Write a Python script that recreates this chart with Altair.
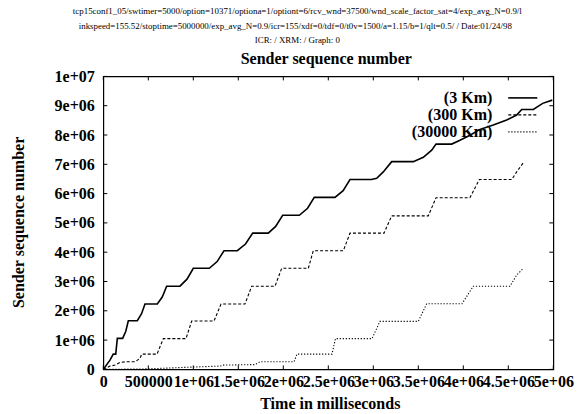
import altair as alt
import pandas as pd

# ---- data ----
x_3km = [0, 74000, 111000, 138000, 156000, 215000, 250000, 278000, 378000, 425000, 463000,
         600000, 655000, 704000, 852000, 930000, 1000000, 1178000, 1265000, 1341000,
         1489000, 1580000, 1660000, 1833000, 1915000, 1993000, 2178000, 2270000, 2344000,
         2574000, 2665000, 2741000, 2980000, 3038000, 3111000, 3204000, 3444000, 3556000,
         3649000, 3697000, 3871000, 3963000, 4074000, 4185000, 4333000, 4482000, 4593000,
         4649000, 4778000, 4882000, 4989000]
y_3km = [0, 317000, 522000, 522000, 1058000, 1058000, 1300000, 1660000, 1660000, 1900000, 2230000,
         2230000, 2470000, 2840000, 2840000, 3080000, 3450000, 3450000, 3680000, 4050000,
         4050000, 4280000, 4650000, 4650000, 4880000, 5260000, 5260000, 5500000, 5870000,
         5870000, 6100000, 6480000, 6480000, 6520000, 6740000, 7090000, 7090000, 7240000,
         7480000, 7690000, 7690000, 7820000, 7990000, 8190000, 8340000, 8510000, 8680000,
         8870000, 8870000, 9080000, 9190000]

x_300km = [0, 74000, 130000, 186000, 241000, 352000, 408000, 427000, 574000, 597000, 667000,
           919000, 982000, 1230000, 1308000, 1574000, 1649000, 1908000, 1982000, 2278000,
           2333000, 2667000, 2741000, 3119000, 3204000, 3611000, 3697000, 4074000, 4178000,
           4538000, 4593000, 4675000]
y_300km = [0, 113000, 147000, 239000, 259000, 259000, 375000, 522000, 522000, 522000, 1050000,
           1050000, 1650000, 1650000, 2230000, 2230000, 2840000, 2840000, 3450000, 3450000,
           4050000, 4050000, 4650000, 4650000, 5240000, 5240000, 5860000, 5860000, 6480000,
           6480000, 6740000, 7090000]

x_30000km = [0, 482000, 982000, 1297000, 1333000, 1686000, 1741000, 2119000, 2152000, 2541000,
             2580000, 2986000, 3074000, 3500000, 3593000, 3986000, 4111000, 4519000, 4593000,
             4667000]
y_30000km = [0, 17000, 78000, 113000, 147000, 164000, 259000, 259000, 522000, 522000,
             1050000, 1050000, 1640000, 1640000, 2240000, 2240000, 2840000, 2840000, 3220000,
             3450000]

series_names = ["(3 Km)", "(300 Km)", "(30000 Km)"]

x_tick_values = [0, 500000, 1000000, 1500000, 2000000, 2500000, 3000000, 3500000, 4000000,
                 4500000, 5000000]
x_tick_labels = ["0", "500000", "1e+06", "1.5e+06", "2e+06", "2.5e+06", "3e+06", "3.5e+06",
                 "4e+06", "4.5e+06", "5e+06"]
y_tick_values = [0, 1000000, 2000000, 3000000, 4000000, 5000000, 6000000, 7000000, 8000000,
                 9000000, 10000000]
y_tick_labels = ["0", "1e+06", "2e+06", "3e+06", "4e+06", "5e+06", "6e+06", "7e+06", "8e+06",
                 "9e+06", "1e+07"]

header_lines = [
    "tcp15conf1_05/swtimer=5000/option=10371/optiona=1/optiont=6/rcv_wnd=37500/wnd_scale_factor_sat=4/exp_avg_N=0.9/l",
    "inkspeed=155.52/stoptime=5000000/exp_avg_N=0.9/icr=155/xdf=0/tdf=0/t0v=1500/a=1.15/b=1/qlt=0.5/ / Date:01/24/98",
    "ICR: / XRM: / Graph: 0",
]
title_text = "Sender sequence number"
x_title = "Time in milliseconds"
y_title = "Sender sequence number"

# ---- layout ----
W, H = 450, 293
FONT = "Liberation Serif"

rows = []
for name, xs, ys in zip(series_names, [x_3km, x_300km, x_30000km], [y_3km, y_300km, y_30000km]):
    for i, (a, b) in enumerate(zip(xs, ys)):
        rows.append({"series": name, "i": i, "t": a, "seq": b})
df = pd.DataFrame(rows)

xscale = alt.Scale(domain=[0, 5000000], nice=False, zero=False)
yscale = alt.Scale(domain=[0, 10000000], nice=False)

x_label_expr = "[" + ",".join("'%s'" % s for s in x_tick_labels) + "][round(datum.value/500000)]"
y_label_expr = "[" + ",".join("'%s'" % s for s in y_tick_labels) + "][round(datum.value/1000000)]"

x_axis = alt.Axis(values=x_tick_values, labelExpr=x_label_expr, title=None,
                  ticks=False, domain=False, grid=False, labelOverlap=False,
                  labelFlush=False, labelBound=False, labelFont=FONT,
                  labelFontWeight="bold", labelFontSize=16, labelColor="black",
                  labelPadding=4, labelBaseline="top")
y_axis = alt.Axis(values=y_tick_values, labelExpr=y_label_expr, title=None,
                  ticks=False, domain=False, grid=False, labelOverlap=False,
                  labelFlush=False, labelBound=False, labelFont=FONT,
                  labelFontWeight="bold", labelFontSize=16, labelColor="black",
                  labelPadding=9)

base = alt.Chart(df)

styles = {
    "(3 Km)": dict(strokeWidth=1.6),
    "(300 Km)": dict(strokeWidth=1.1, strokeDash=[3, 2]),
    "(30000 Km)": dict(strokeWidth=1.1, strokeDash=[1.2, 1.8]),
}

line_layers = []
for k, name in enumerate(series_names):
    enc = dict(
        x=alt.X("t:Q", scale=xscale, axis=x_axis),
        y=alt.Y("seq:Q", scale=yscale, axis=y_axis),
        order=alt.Order("i:Q"),
    )
    line_layers.append(
        base.transform_filter(alt.datum.series == name)
        .mark_line(color="black", strokeCap="butt", **styles[name])
        .encode(**enc)
    )

# inward tick marks (mirrored on all four sides)
xt = alt.Chart(pd.DataFrame({"v": x_tick_values}))
yt = alt.Chart(pd.DataFrame({"v": y_tick_values}))
tick_layers = [
    xt.mark_rule(color="black", strokeWidth=1).encode(x=alt.X("v:Q", scale=xscale, axis=x_axis), y=alt.value(H), y2=alt.value(H - 4)),
    xt.mark_rule(color="black", strokeWidth=1).encode(x=alt.X("v:Q", scale=xscale, axis=x_axis), y=alt.value(0), y2=alt.value(4)),
    yt.mark_rule(color="black", strokeWidth=1).encode(y=alt.Y("v:Q", scale=yscale, axis=y_axis), x=alt.value(0), x2=alt.value(4)),
    yt.mark_rule(color="black", strokeWidth=1).encode(y=alt.Y("v:Q", scale=yscale, axis=y_axis), x=alt.value(W), x2=alt.value(W - 4)),
]

one = alt.Data(values=[{}])


def txt(text, x, y, size, bold=False, align="center", angle=None, baseline="middle"):
    kw = dict(text=text, font=FONT, fontSize=size, align=align, baseline=baseline, color="black")
    if bold:
        kw["fontWeight"] = "bold"
    if angle is not None:
        kw["angle"] = angle
    return alt.Chart(one).mark_text(**kw).encode(x=alt.value(x), y=alt.value(y))


text_layers = [
    txt(header_lines[0], 194, -65.5, 8.9),
    txt(header_lines[1], 192, -50, 8.9),
    txt(header_lines[2], 194, -36, 8.9),
    txt(title_text, 223, -17, 16, bold=True),
    txt(x_title, 227, 328, 16, bold=True),
    txt(y_title, -84, 146, 16, bold=True, angle=270),
]

# legend drawn inside the plot, top right
legend_layers = []
leg_y = [21.5, 38.5, 55.5]
for name, ly in zip(series_names, leg_y):
    legend_layers.append(txt(name, 389, ly, 16, bold=True, align="right"))
    legend_layers.append(
        alt.Chart(one).mark_rule(color="black", strokeCap="butt", **styles[name])
        .encode(x=alt.value(405), x2=alt.value(434), y=alt.value(ly))
    )

chart = alt.layer(*line_layers, *tick_layers, *legend_layers, *text_layers).properties(
    width=W, height=H,
    autosize=alt.AutoSizeParams(type="none"),
    padding={"left": 103.3, "top": 76.4, "right": 28.7, "bottom": 44.6},
    background="white",
).configure_view(stroke="black", strokeWidth=1.2)

chart.save("out.html", embed_options={"renderer": "svg", "actions": False})
